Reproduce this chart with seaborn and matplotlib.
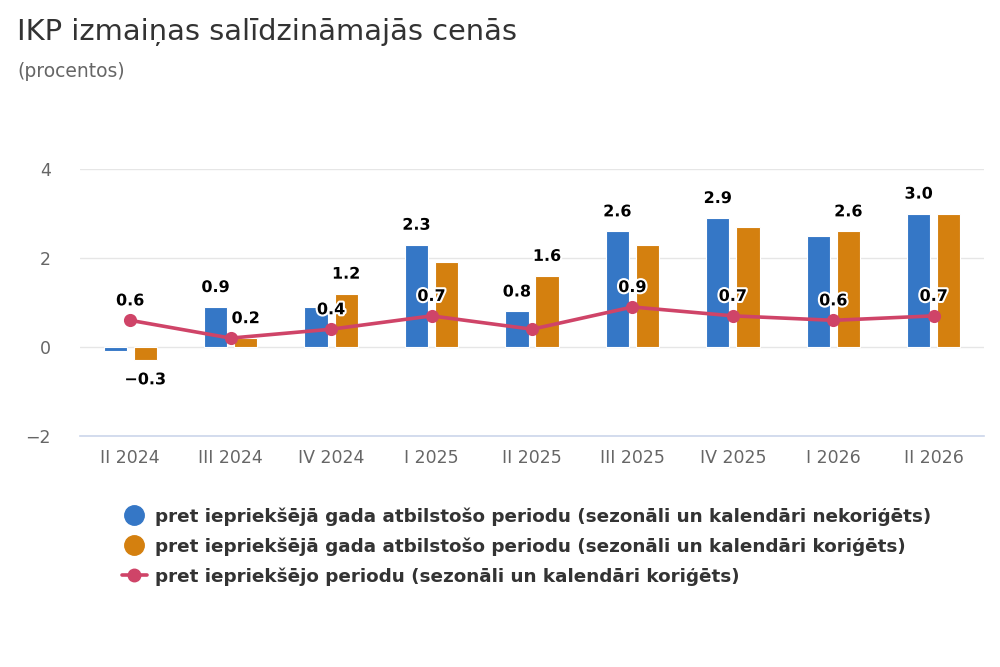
import pandas as pd
import matplotlib.pyplot as plt
import matplotlib.patheffects as pe
from matplotlib.lines import Line2D
import seaborn as sns

# data
quarters = ['II 2024', 'III 2024', 'IV 2024', 'I 2025', 'II 2025',
            'III 2025', 'IV 2025', 'I 2026', 'II 2026']
yoy_unadj = [-0.1, 0.9, 0.9, 2.3, 0.8, 2.6, 2.9, 2.5, 3.0]
yoy_adj = [-0.3, 0.2, 1.2, 1.9, 1.6, 2.3, 2.7, 2.6, 3.0]
qoq_adj = [0.6, 0.2, 0.4, 0.7, 0.4, 0.9, 0.7, 0.6, 0.7]

# which data labels survive overlap in the original
show_unadj = [False, True, False, True, True, True, True, False, True]
show_adj = [True, True, True, False, True, False, False, True, False]
show_qoq = [True, False, True, True, False, True, True, True, True]

names = ['pret iepriekšējā gada atbilstošo periodu (sezonāli un kalendāri nekoriģēts)',
         'pret iepriekšējā gada atbilstošo periodu (sezonāli un kalendāri koriģēts)',
         'pret iepriekšējo periodu (sezonāli un kalendāri koriģēts)']
colors = ['#3577c6', '#d4800f', '#cf4468']

df = pd.DataFrame({
    'Ceturksnis': quarters * 2,
    'Vertiba': yoy_unadj + yoy_adj,
    'Serija': [names[0]] * len(quarters) + [names[1]] * len(quarters),
})

sns.set_style('white')
plt.rcParams['font.family'] = ['DejaVu Sans']

fig = plt.figure(figsize=(10, 6.67), dpi=100)
ax = fig.add_axes([0.08, 0.3463, 0.904, 0.4003])

sns.barplot(data=df, x='Ceturksnis', y='Vertiba', hue='Serija', order=quarters,
            hue_order=names[:2], palette=colors[:2], width=0.6, gap=0.23,
            edgecolor='white', linewidth=0.8, saturation=1, legend=False, ax=ax, zorder=2)
sns.pointplot(x=quarters, y=qoq_adj, color=colors[2], markers='o', markersize=7.5,
              linewidth=2.6, errorbar=None, ax=ax)

ax.set_ylim(-2, 4)
ax.set_xlim(-0.5, len(quarters) - 0.5)
ax.set_yticks([-2, 0, 2, 4])
ax.set_yticklabels(['−2', '0', '2', '4'])
ax.grid(axis='y', color='#e6e6e6', linewidth=1)
ax.set_axisbelow(True)
for s in ['top', 'right', 'left']:
    ax.spines[s].set_visible(False)
ax.spines['bottom'].set_color('#ccd6eb')
ax.spines['bottom'].set_linewidth(1.2)
ax.tick_params(axis='both', length=0, labelsize=12.5, colors='#666666')
ax.tick_params(axis='y', pad=21)
ax.tick_params(axis='x', pad=9)
ax.set_xlabel('')
ax.set_ylabel('')

outline = [pe.withStroke(linewidth=3, foreground='white')]


def put_labels(xoff, vals, mask):
    for i, (v, m) in enumerate(zip(vals, mask)):
        if not m:
            continue
        dy = 14 if v >= 0 else -14
        ax.annotate(f'{v:.1f}'.replace('-', '−'), (i + xoff, v), xytext=(0, dy),
                    textcoords='offset points', ha='center', va='center',
                    fontsize=11.5, fontweight='bold', color='black',
                    path_effects=outline, zorder=5)


put_labels(-0.15, yoy_unadj, show_unadj)
put_labels(0.15, yoy_adj, show_adj)
put_labels(0, qoq_adj, show_qoq)

fig.text(0.017, 0.94, 'IKP izmaiņas salīdzināmajās cenās', fontsize=20.8,
         color='#333333', va='baseline')
fig.text(0.017, 0.885, '(procentos)', fontsize=13.5, color='#666666', va='baseline')

handles = [
    Line2D([], [], linestyle='none', marker='o', markersize=14, color=colors[0]),
    Line2D([], [], linestyle='none', marker='o', markersize=14, color=colors[1]),
    Line2D([], [], linestyle='-', linewidth=2.6, marker='o', markersize=9, color=colors[2]),
]
leg = fig.legend(handles, names, loc='upper left', bbox_to_anchor=(0.105, 0.264),
                 frameon=False, handlelength=1.4, handletextpad=0.45, labelspacing=0.62,
                 prop={'weight': 'bold', 'size': 13.2})
for t in leg.get_texts():
    t.set_color('#333333')

fig.savefig('out.png', dpi=100)
